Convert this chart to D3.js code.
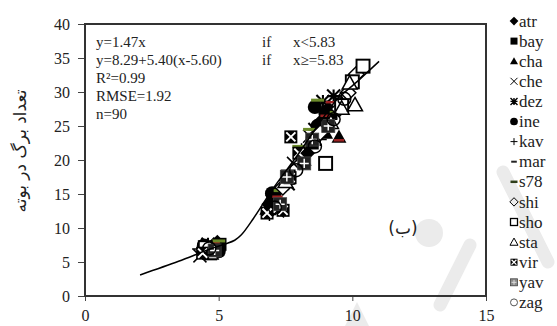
<!DOCTYPE html>
<html>
<head>
<meta charset="utf-8">
<script src="https://cdn.jsdelivr.net/npm/d3@7"></script>
<style>
  body { margin: 0; background: #fff; }
  svg { display: block; font-family: "Liberation Serif", "Times New Roman", serif; }
</style>
</head>
<body>
<div id="graph"></div>
<script>
// cultivar names, in legend order
const cultivars = ['atr','bay','cha','che','dez','ine','kav','mar','s78','shi','sho','sta','vir','yav','zag'];

const atr = [[4.55,6.6],[4.95,7.8],[6.9,13.5],[8.3,21.0],[8.8,25.5],[9.1,27.5]];
const bay = [[4.7,6.2],[5.05,7.6],[7.1,14.5],[8.5,22.5],[8.9,24.5],[9.2,27.0]];
const cha = [[4.8,7.4],[6.8,12.8],[8.2,20.0],[9.0,24.0],[9.5,23.4],[9.6,28.5]];
const che = [[4.3,5.9],[4.75,6.9],[7.2,12.5],[7.8,19.5],[8.4,23.5],[9.0,26.0]];
const dez = [[4.6,7.6],[7.0,14.0],[7.6,16.5],[8.6,24.5],[8.9,28.6],[9.3,29.4]];
const ine = [[4.45,7.4],[5.0,6.6],[7.0,15.1],[8.7,25.0],[9.0,26.8],[8.6,27.8]];
const kav = [[4.25,6.9],[6.9,12.0],[7.5,17.0],[8.1,21.5],[8.8,23.0],[9.2,26.0]];
const mar = [[4.85,7.9],[7.2,14.6],[8.6,23.0],[9.2,28.5],[9.5,22.9],[9.0,26.5]];
const s78 = [[5.0,8.1],[7.3,15.5],[8.0,22.0],[8.4,24.5],[8.7,28.8],[9.4,27.0]];
const shi = [[4.6,6.9],[7.4,16.0],[8.8,24.0],[9.5,27.5],[9.84,29.9],[10.15,32.6]];
const sho = [[4.5,7.1],[7.6,17.5],[9.0,19.5],[9.6,28.0],[10.0,31.5],[10.4,33.8]];
const sta = [[4.7,6.3],[7.5,16.8],[9.2,25.5],[9.6,27.6],[9.9,31.3],[10.1,28.1]];
const vir = [[4.4,6.3],[6.81,12.2],[7.41,12.6],[7.67,17.4],[7.7,23.4],[8.0,21.0]];
const yav = [[4.85,6.7],[7.3,13.5],[7.55,17.5],[8.2,19.5],[8.5,23.0],[9.1,25.0]];
const zag = [[4.65,7.0],[7.1,13.0],[7.9,18.5],[8.6,22.0],[9.3,26.0],[9.7,29.0]];

// fitted curve as drawn in the figure
const fitLine = [[2.06,3.1],[3.5,5.1],[4.6,6.8],[5.2,7.6],[5.6,8.2],[5.85,9.0],[6.3,11.4],
                 [7.0,15.6],[8.0,21.0],[8.8,25.6],[9.4,28.8],[10.2,31.6],[11.0,34.5]];

const xTicks = [0, 5, 10, 15];
const yTicks = [0, 5, 10, 15, 20, 25, 30, 35, 40];

const eqLeft = ['y=1.47x', 'y=8.29+5.40(x-5.60)', 'R²=0.99', 'RMSE=1.92', 'n=90'];
const eqIf = ['if', 'if'];
const eqCond = ['x<5.83', 'x≥=5.83'];

const seriesData = { atr, bay, cha, che, dez, ine, kav, mar, s78, shi, sho, sta, vir, yav, zag };

const width = 557, height = 326;
const m = { left: 85, right: 71, top: 24, bottom: 30 };
const serif = '"Liberation Serif", "Times New Roman", serif';

const svg = d3.select('#graph').append('svg')
  .attr('width', width).attr('height', height);

// faint watermark shapes behind the chart
const wm = svg.append('g').attr('fill', '#ebebeb').attr('stroke', '#ebebeb');
wm.append('circle').attr('cx', 429).attr('cy', 233).attr('r', 14).attr('stroke', 'none');
wm.append('line').attr('x1', 470).attr('y1', 245).attr('x2', 440).attr('y2', 305)
  .attr('stroke-width', 13).attr('stroke-linecap', 'round');
wm.append('line').attr('x1', 503).attr('y1', 172).attr('x2', 548).attr('y2', 262)
  .attr('stroke-width', 13).attr('stroke-linecap', 'round');
wm.append('path').attr('d', 'M357,302 L345,326 L369,326Z').attr('stroke', 'none');

const x = d3.scaleLinear().domain([0, 15]).range([m.left, width - m.right]);
const y = d3.scaleLinear().domain([0, 40]).range([height - m.bottom, m.top]);

// axes
const yAxis = svg.append('g')
  .attr('transform', `translate(${m.left},0)`)
  .call(d3.axisLeft(y).tickValues(yTicks).tickSize(7).tickPadding(8));
const xAxis = svg.append('g')
  .attr('transform', `translate(0,${height - m.bottom})`)
  .call(d3.axisBottom(x).tickValues(xTicks).tickSize(5).tickPadding(9));
[xAxis, yAxis].forEach(g => {
  g.select('.domain').remove();
  g.selectAll('line').attr('stroke', '#444');
  g.selectAll('text').attr('font-size', 16).attr('fill', '#222').attr('font-family', serif);
});

// frame
svg.append('rect')
  .attr('x', m.left).attr('y', m.top)
  .attr('width', x(15) - m.left).attr('height', y(0) - m.top)
  .attr('fill', 'none').attr('stroke', '#333').attr('stroke-width', 2);

// marker drawing
function drawMarker(g, name, r) {
  const big = r > 4;
  const sw = big ? 1.5 : 1;
  switch (name) {
    case 'atr':
      g.append('path').attr('d', `M0,${-r*1.25}L${r*1.25},0L0,${r*1.25}L${-r*1.25},0Z`).attr('fill', '#000');
      break;
    case 'bay':
      g.append('rect').attr('x', -r).attr('y', -r).attr('width', 2*r).attr('height', 2*r).attr('fill', '#000');
      break;
    case 'cha':
      g.append('path').attr('d', `M0,${-r*1.15}L${r*1.15},${r*0.9}L${-r*1.15},${r*0.9}Z`).attr('fill', '#000');
      break;
    case 'che':
      g.append('path').attr('d', `M${-r},${-r}L${r},${r}M${-r},${r}L${r},${-r}`)
        .attr('stroke', '#000').attr('stroke-width', sw).attr('fill', 'none');
      break;
    case 'dez':
      g.append('path').attr('d', `M${-r},${-r}L${r},${r}M${-r},${r}L${r},${-r}M${-r},0L${r},0M0,${-r}L0,${r}`)
        .attr('stroke', '#000').attr('stroke-width', sw * 1.4).attr('fill', 'none');
      break;
    case 'ine':
      g.append('circle').attr('r', r * 1.1).attr('fill', '#000');
      break;
    case 'kav':
      g.append('path').attr('d', `M${-r},0L${r},0M0,${-r}L0,${r}`)
        .attr('stroke', '#000').attr('stroke-width', sw).attr('fill', 'none');
      break;
    case 'mar':
      g.append('path').attr('d', `M${-r*0.8},0L${r*0.8},0`)
        .attr('stroke', big ? '#9b2222' : '#222').attr('stroke-width', big ? 2.5 : 2);
      break;
    case 's78':
      g.append('path').attr('d', `M${-r},0L${r},0`)
        .attr('stroke', big ? '#6b8a2a' : '#2f3f1a').attr('stroke-width', big ? 3 : 2.5);
      break;
    case 'shi':
      g.append('path').attr('d', `M0,${-r*1.2}L${r*1.2},0L0,${r*1.2}L${-r*1.2},0Z`)
        .attr('fill', big ? '#fff' : 'none').attr('stroke', '#000').attr('stroke-width', sw);
      break;
    case 'sho':
      g.append('rect').attr('x', -r).attr('y', -r).attr('width', 2*r).attr('height', 2*r)
        .attr('fill', big ? '#fff' : 'none').attr('stroke', '#000').attr('stroke-width', sw * 1.3);
      break;
    case 'sta':
      g.append('path').attr('d', `M0,${-r*1.15}L${r*1.15},${r*0.9}L${-r*1.15},${r*0.9}Z`)
        .attr('fill', big ? '#fff' : 'none').attr('stroke', '#000').attr('stroke-width', sw);
      break;
    case 'vir':
      g.append('rect').attr('x', -r).attr('y', -r).attr('width', 2*r).attr('height', 2*r).attr('fill', '#000');
      g.append('path').attr('d', `M${-r*0.7},${-r*0.7}L${r*0.7},${r*0.7}M${-r*0.7},${r*0.7}L${r*0.7},${-r*0.7}`)
        .attr('stroke', '#fff').attr('stroke-width', sw * 1.3);
      break;
    case 'yav':
      g.append('rect').attr('x', -r).attr('y', -r).attr('width', 2*r).attr('height', 2*r)
        .attr('fill', big ? '#222' : '#8a8a8a').attr('stroke', '#444').attr('stroke-width', 0.8);
      g.append('path').attr('d', `M${-r*0.7},0L${r*0.7},0M0,${-r*0.7}L0,${r*0.7}`)
        .attr('stroke', big ? '#fff' : '#ddd').attr('stroke-width', sw);
      break;
    case 'zag':
      g.append('circle').attr('r', r).attr('fill', 'none').attr('stroke', big ? '#000' : '#555').attr('stroke-width', sw);
      break;
  }
}

// scatter series
const plot = svg.append('g');
cultivars.forEach(name => {
  plot.append('g').selectAll('g')
    .data(seriesData[name])
    .enter().append('g')
    .attr('transform', d => `translate(${x(d[0])},${y(d[1])})`)
    .each(function () { drawMarker(d3.select(this), name, 6.5); });
});

// fitted curve
svg.append('path')
  .datum(fitLine)
  .attr('fill', 'none').attr('stroke', '#000').attr('stroke-width', 1.5)
  .attr('d', d3.line().x(d => x(d[0])).y(d => y(d[1])).curve(d3.curveCatmullRom));

// equations
const eq = svg.append('g').attr('font-size', 15).attr('fill', '#222').attr('font-family', serif);
eq.selectAll('text.l').data(eqLeft).enter().append('text')
  .attr('x', 96).attr('y', (d, i) => 47 + i * 18).text(d => d);
eq.selectAll('text.i').data(eqIf).enter().append('text')
  .attr('x', 262).attr('y', (d, i) => 47 + i * 18).text(d => d);
eq.selectAll('text.c').data(eqCond).enter().append('text')
  .attr('x', 293).attr('y', (d, i) => 47 + i * 18).text(d => d);

// panel label
svg.append('text').attr('x', 403).attr('y', 234).attr('text-anchor', 'middle')
  .attr('font-family', '"DejaVu Sans", sans-serif').attr('font-size', 17).attr('fill', '#222')
  .text('(ب)');

// y axis title
svg.append('text')
  .attr('transform', 'translate(20,151) rotate(-90)')
  .attr('text-anchor', 'middle').attr('dominant-baseline', 'central')
  .attr('font-family', '"DejaVu Sans", sans-serif').attr('font-size', 17).attr('fill', '#222')
  .text('تعداد برگ در بوته');

// legend
const legend = svg.append('g');
cultivars.forEach((name, i) => {
  const row = legend.append('g').attr('transform', `translate(514,${21 + i * 20.1})`);
  drawMarker(row.append('g'), name, 3.5);
  row.append('text').attr('x', 5).attr('dy', '0.33em')
    .attr('font-family', serif).attr('font-size', 17).attr('fill', '#222').text(name);
});
</script>
</body>
</html>
